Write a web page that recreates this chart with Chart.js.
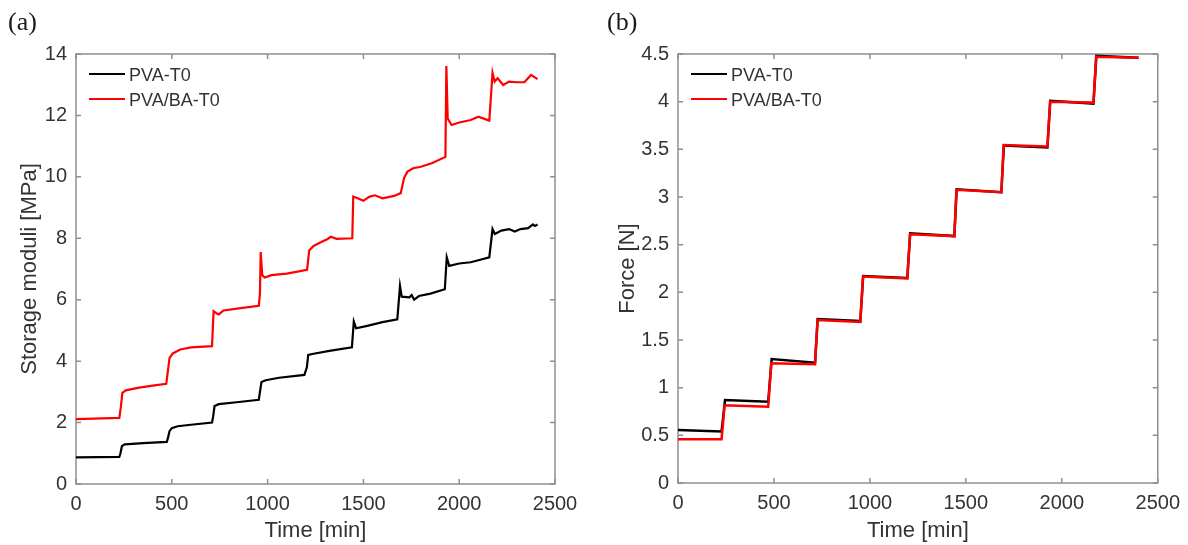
<!DOCTYPE html>
<html lang="en">
<head>
<meta charset="UTF-8">
<title>Storage moduli and force vs time</title>
<script src="https://cdn.jsdelivr.net/npm/chart.js"></script>
<style>
    body {
        margin: 0;
        background: #fff;
        width: 1188px;
        height: 545px;
        overflow: hidden;
        position: relative;
    }
    .panel {
        position: absolute;
        top: 0;
        width: 594px;
        height: 545px;
    }
    .tag {
        position: absolute;
        top: 9px;
        font-family: "Liberation Serif", "Times New Roman", serif;
        font-size: 26px;
        line-height: 26px;
        color: #1a1a1a;
    }
</style>
</head>
<body>

<div class="panel" style="left:0"><canvas id="chartA" width="594" height="545"></canvas></div>
<div class="panel" style="left:594px"><canvas id="chartB" width="594" height="545"></canvas></div>
<div class="tag" style="left:8px">(a)</div>
<div class="tag" style="left:607px">(b)</div>

<script>
// series labels
const seriesNames = ['PVA-T0', 'PVA/BA-T0'];

// (a) storage moduli [MPa] vs time [min]
const pvaTimeA = [0, 226, 232, 240, 255, 350, 474, 480, 488, 500, 530, 600, 710, 716, 723, 745, 850, 954, 960, 968, 990, 1060, 1192, 1205, 1212, 1240, 1330, 1440, 1450, 1462, 1520, 1600, 1677, 1691, 1700, 1740, 1752, 1765, 1790, 1850, 1925, 1935, 1948, 2000, 2060, 2110, 2157, 2174, 2186, 2220, 2260, 2290, 2320, 2360, 2385, 2395, 2409];
const pvaModulus = [0.87, 0.88, 1.0, 1.24, 1.29, 1.33, 1.37, 1.5, 1.72, 1.82, 1.88, 1.93, 2.0, 2.2, 2.54, 2.6, 2.67, 2.74, 3.0, 3.32, 3.38, 3.46, 3.55, 3.8, 4.2, 4.24, 4.34, 4.45, 5.29, 5.07, 5.15, 5.27, 5.36, 6.45, 6.1, 6.08, 6.15, 6.0, 6.12, 6.2, 6.34, 7.38, 7.1, 7.18, 7.22, 7.3, 7.38, 8.3, 8.14, 8.25, 8.3, 8.22, 8.3, 8.33, 8.45, 8.4, 8.45];

const baTimeA = [0, 226, 234, 242, 260, 330, 400, 471, 478, 488, 505, 544, 600, 710, 718, 735, 745, 770, 850, 954, 960, 964, 972, 985, 1020, 1100, 1206, 1217, 1240, 1280, 1311, 1330, 1360, 1442, 1447, 1470, 1500, 1530, 1560, 1600, 1660, 1695, 1712, 1730, 1760, 1800, 1860, 1928, 1933, 1940, 1960, 2000, 2060, 2100, 2157, 2174, 2185, 2200, 2230, 2260, 2300, 2340, 2375, 2409];
const baModulus = [2.11, 2.15, 2.5, 2.97, 3.05, 3.14, 3.2, 3.26, 3.6, 4.1, 4.25, 4.38, 4.45, 4.49, 5.63, 5.55, 5.52, 5.65, 5.72, 5.8, 6.2, 7.55, 6.8, 6.72, 6.8, 6.85, 6.97, 7.6, 7.75, 7.88, 7.97, 8.05, 7.98, 8.0, 9.36, 9.3, 9.22, 9.35, 9.4, 9.3, 9.38, 9.47, 9.96, 10.17, 10.28, 10.33, 10.45, 10.65, 13.61, 11.9, 11.69, 11.77, 11.85, 11.96, 11.83, 13.39, 13.1, 13.21, 12.99, 13.1, 13.08, 13.08, 13.32, 13.18];

// (b) force [N] vs time [min]
const pvaTimeB = [0, 227, 245, 470, 488, 714, 728, 950, 965, 1195, 1210, 1440, 1452, 1685, 1698, 1925, 1940, 2165, 2180, 2400];
const pvaForce = [0.555, 0.54, 0.87, 0.853, 1.30, 1.262, 1.72, 1.70, 2.17, 2.15, 2.62, 2.59, 3.08, 3.05, 3.54, 3.52, 4.01, 3.98, 4.48, 4.46];

const baTimeB = [0, 227, 243, 470, 486, 714, 727, 950, 964, 1195, 1209, 1440, 1451, 1685, 1697, 1925, 1939, 2165, 2179, 2400];
const baForce = [0.458, 0.458, 0.815, 0.80, 1.255, 1.245, 1.71, 1.69, 2.165, 2.145, 2.61, 2.59, 3.075, 3.05, 3.545, 3.53, 4.0, 3.99, 4.47, 4.46];

// axis ticks
const timeTicks = [0, 2500, 500];      // min, max, step
const modulusTicks = [0, 14, 2];
const forceTicks = [0, 4.5, 0.5];

const FONT = '"Liberation Sans", Arial, sans-serif';
const TEXT = '#333333';

function points(xs, ys) {
    return xs.map((x, i) => ({ x: x, y: ys[i] }));
}

// plain labels like MATLAB: 2500, 1, 1.5
function plain(v) {
    return String(Math.round(v * 100) / 100);
}

// box with inward ticks + legend in the upper left corner
const framePlugin = {
    id: 'frame',
    beforeDatasetsDraw(chart) {
        const { ctx, chartArea: a, scales: { x, y } } = chart;
        ctx.save();
        ctx.strokeStyle = '#8f8f8f';
        ctx.lineWidth = 1.5;
        ctx.strokeRect(a.left, a.top, a.right - a.left, a.bottom - a.top);
        ctx.beginPath();
        x.ticks.forEach(t => {
            const px = x.getPixelForValue(t.value);
            ctx.moveTo(px, a.bottom); ctx.lineTo(px, a.bottom - 5);
            ctx.moveTo(px, a.top); ctx.lineTo(px, a.top + 5);
        });
        y.ticks.forEach(t => {
            const py = y.getPixelForValue(t.value);
            ctx.moveTo(a.left, py); ctx.lineTo(a.left + 5, py);
            ctx.moveTo(a.right, py); ctx.lineTo(a.right - 5, py);
        });
        ctx.stroke();
        ctx.restore();
    },
    afterDatasetsDraw(chart) {
        const { ctx, chartArea: a } = chart;
        ctx.save();
        ctx.font = '18px ' + FONT;
        ctx.textBaseline = 'middle';
        chart.data.datasets.forEach((ds, i) => {
            const ly = a.top + 20 + i * 25;
            ctx.strokeStyle = ds.borderColor;
            ctx.lineWidth = 2;
            ctx.beginPath();
            ctx.moveTo(a.left + 13, ly);
            ctx.lineTo(a.left + 49, ly);
            ctx.stroke();
            ctx.fillStyle = TEXT;
            ctx.fillText(ds.label, a.left + 53, ly + 2.5);
        });
        ctx.restore();
    }
};

function makeChart(id, blackPts, redPts, yTicks, yTitle, lay, lineW) {
    new Chart(document.getElementById(id), {
        type: 'line',
        data: {
            datasets: [
                { label: seriesNames[0], data: blackPts, borderColor: '#000000', borderWidth: lineW, pointRadius: 0, tension: 0, order: 1 },
                { label: seriesNames[1], data: redPts, borderColor: '#ff0000', borderWidth: lineW, pointRadius: 0, tension: 0, order: 0 }
            ]
        },
        options: {
            responsive: false,
            animation: false,
            layout: { padding: { left: 0, top: 54, right: lay.right, bottom: 0 } },
            plugins: { legend: { display: false }, tooltip: { enabled: false } },
            scales: {
                x: {
                    type: 'linear',
                    min: timeTicks[0], max: timeTicks[1],
                    grid: { display: false, drawTicks: false },
                    border: { display: false },
                    ticks: { stepSize: timeTicks[2], autoSkip: false, maxRotation: 0, padding: 8, color: TEXT, font: { family: FONT, size: 20 }, callback: plain },
                    title: { display: true, text: 'Time [min]', color: TEXT, font: { family: FONT, size: 22 }, padding: { top: 0, bottom: 1 } },
                    afterFit(scale) { scale.height = lay.xh; }
                },
                y: {
                    min: yTicks[0], max: yTicks[1],
                    grid: { display: false, drawTicks: false },
                    border: { display: false },
                    ticks: { stepSize: yTicks[2], autoSkip: false, padding: 9, color: TEXT, font: { family: FONT, size: 20 }, callback: plain },
                    title: { display: true, text: yTitle, color: TEXT, font: { family: FONT, size: 22 }, padding: { top: lay.tp, bottom: 0 } },
                    afterFit(scale) { scale.width = lay.yw; }
                }
            }
        },
        plugins: [framePlugin]
    });
}

makeChart('chartA', points(pvaTimeA, pvaModulus), points(baTimeA, baModulus), modulusTicks,
    'Storage moduli [MPa]', { right: 39, xh: 61, yw: 76, tp: 17 }, 2.2);
makeChart('chartB', points(pvaTimeB, pvaForce), points(baTimeB, baForce), forceTicks,
    'Force [N]', { right: 30, xh: 62, yw: 84, tp: 21 }, 2.5);
</script>

</body>
</html>
